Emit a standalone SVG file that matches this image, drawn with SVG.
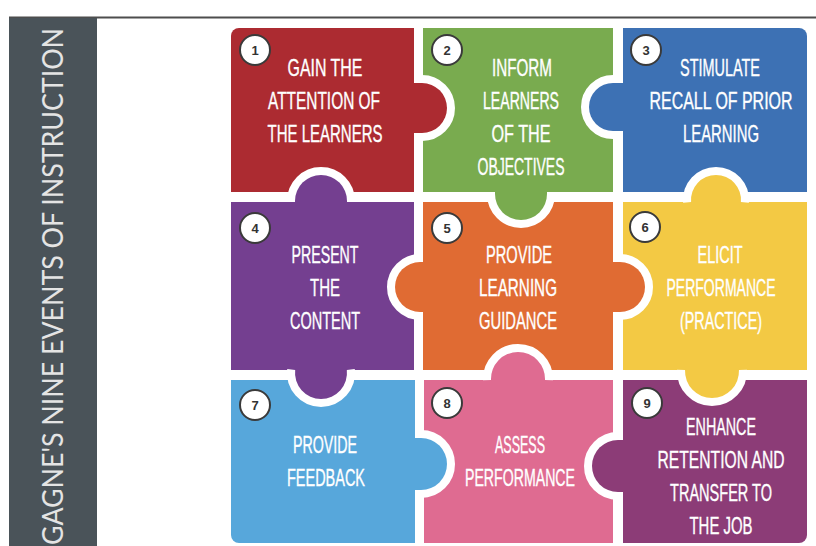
<svg xmlns="http://www.w3.org/2000/svg" width="816" height="546" viewBox="0 0 816 546">
<style>
.t{font-family:"Liberation Sans",Arial,sans-serif;font-size:23px;fill:#ffffff;stroke:#ffffff;stroke-width:0.35;text-anchor:middle}
.n{font-family:"Liberation Sans",Arial,sans-serif;font-size:13px;font-weight:bold;fill:#333333;text-anchor:middle}
.nc{fill:#ffffff;stroke:#3a3a3a;stroke-width:2}
.ring{fill:none;stroke:#ffffff;stroke-width:16;stroke-linecap:butt;stroke-linejoin:round}
.c1{fill:#ac2b31}.c2{fill:#79ab4f}.c3{fill:#3d71b4}.c4{fill:#743f90}.c5{fill:#e06b33}.c6{fill:#f3c944}.c7{fill:#57a7db}.c8{fill:#df6b91}.c9{fill:#8c3c77}
</style>
<rect x="0" y="0" width="816" height="546" fill="#ffffff"/>
<line x1="9" y1="17.5" x2="816" y2="17.5" stroke="#4d4d4d" stroke-width="2"/>
<g id="title">
<rect x="9" y="18" width="88" height="528" fill="#4a5359"/>
<text transform="translate(63,545) rotate(-90)" x="0" y="0" font-family="Lato,'Open Sans',sans-serif" font-size="28" fill="#e4e4e4" textLength="517" lengthAdjust="spacingAndGlyphs">GAGNE'S NINE EVENTS OF INSTRUCTION</text>
</g>
<g id="piece1">
<path class="c1" d="M231,36 A8 8 0 0 1 239,28 H414 V192 H231 Z"/>
</g>
<g id="piece2">
<rect class="c2" x="423" y="28" width="190" height="164"/>
</g>
<g id="piece3">
<path class="c3" d="M623,28 H799 A8 8 0 0 1 807,36 V192 H623 Z"/>
</g>
<g id="piece4">
<rect class="c4" x="231" y="202" width="183" height="168"/>
</g>
<g id="piece5">
<rect class="c5" x="423" y="202" width="190" height="168"/>
</g>
<g id="piece6">
<rect class="c6" x="623" y="202" width="184" height="168"/>
</g>
<g id="piece7">
<path class="c7" d="M231,380 H415 V543 H239 A8 8 0 0 1 231,535 Z"/>
</g>
<g id="piece8">
<rect class="c8" x="424" y="380" width="189" height="163"/>
</g>
<g id="piece9">
<path class="c9" d="M623,380 H807 V535 A8 8 0 0 1 799,543 H623 Z"/>
</g>
<g id="connectors">
<path class="ring" d="M414,83 H422 A25 25 0 0 1 422,133 H414"/>
<path class="ring" d="M623,83 H613 A24 24 0 0 0 613,131 H623"/>
<path class="ring" d="M295,202 V201 A26 26 0 0 1 347,201 V202"/>
<path class="ring" d="M495,192 V194 A26 26 0 0 0 547,194 V192"/>
<path class="ring" d="M691.08,202 A25 25 0 1 1 740.92,202"/>
<path class="ring" d="M423,262 H420 A25 25 0 0 0 420,312 H423"/>
<path class="ring" d="M613,262 H620 A25 25 0 0 1 620,312 H613"/>
<path class="ring" d="M295.17,370 A26 26 0 1 0 346.83,370"/>
<path class="ring" d="M491.02,380 A27 27 0 1 1 544.98,380"/>
<path class="ring" d="M685.02,370 A27 27 0 1 0 738.98,370"/>
<path class="ring" d="M415,438 H421 A26 26 0 0 1 421,490 H415"/>
<path class="ring" d="M623,440 H618 A26 26 0 0 0 618,492 H623"/>
<path class="c1" d="M413,83 H422 A25 25 0 0 1 422,133 H413 Z"/>
<path class="c3" d="M624,83 H613 A24 24 0 0 0 613,131 H624 Z"/>
<path class="c4" d="M295,203 V201 A26 26 0 0 1 347,201 V203 Z"/>
<path class="c2" d="M495,191 V194 A26 26 0 0 0 547,194 V191 Z"/>
<path class="c6" d="M691.08,203 V202 A25 25 0 1 1 740.92,202 V203 Z"/>
<path class="c5" d="M424,262 H420 A25 25 0 0 0 420,312 H424 Z"/>
<path class="c5" d="M612,262 H620 A25 25 0 0 1 620,312 H612 Z"/>
<path class="c4" d="M295.17,369 V370 A26 26 0 1 0 346.83,370 V369 Z"/>
<path class="c8" d="M491.02,381 V380 A27 27 0 1 1 544.98,380 V381 Z"/>
<path class="c6" d="M685.02,369 V370 A27 27 0 1 0 738.98,370 V369 Z"/>
<path class="c7" d="M414,438 H421 A26 26 0 0 1 421,490 H414 Z"/>
<path class="c9" d="M624,440 H618 A26 26 0 0 0 618,492 H624 Z"/>
</g>
<g id="labels1">
<circle class="nc" cx="255" cy="50" r="15"/><text class="n" x="255" y="55">1</text>
<text class="t" transform="translate(325,76) scale(0.8,1)" textLength="93.75" lengthAdjust="spacingAndGlyphs">GAIN THE</text>
<text class="t" transform="translate(324,109) scale(0.8,1)" textLength="140" lengthAdjust="spacingAndGlyphs">ATTENTION OF</text>
<text class="t" transform="translate(325,142) scale(0.8,1)" textLength="143.75" lengthAdjust="spacingAndGlyphs">THE LEARNERS</text>
</g>
<g id="labels2">
<circle class="nc" cx="447" cy="50" r="15"/><text class="n" x="447" y="55">2</text>
<text class="t" transform="translate(522,76) scale(0.8,1)" textLength="75" lengthAdjust="spacingAndGlyphs">INFORM</text>
<text class="t" transform="translate(521,109) scale(0.8,1)" textLength="95" lengthAdjust="spacingAndGlyphs">LEARNERS</text>
<text class="t" transform="translate(521,142) scale(0.8,1)" textLength="73.75" lengthAdjust="spacingAndGlyphs">OF THE</text>
<text class="t" transform="translate(521,175) scale(0.8,1)" textLength="108.75" lengthAdjust="spacingAndGlyphs">OBJECTIVES</text>
</g>
<g id="labels3">
<circle class="nc" cx="646" cy="50" r="15"/><text class="n" x="646" y="55">3</text>
<text class="t" transform="translate(720,76) scale(0.8,1)" textLength="100" lengthAdjust="spacingAndGlyphs">STIMULATE</text>
<text class="t" transform="translate(721,109) scale(0.8,1)" textLength="178.75" lengthAdjust="spacingAndGlyphs">RECALL OF PRIOR</text>
<text class="t" transform="translate(721,142) scale(0.8,1)" textLength="95" lengthAdjust="spacingAndGlyphs">LEARNING</text>
</g>
<g id="labels4">
<circle class="nc" cx="255" cy="228" r="15"/><text class="n" x="255" y="233">4</text>
<text class="t" transform="translate(325,263) scale(0.8,1)" textLength="83.75" lengthAdjust="spacingAndGlyphs">PRESENT</text>
<text class="t" transform="translate(325,296) scale(0.8,1)" textLength="37.5" lengthAdjust="spacingAndGlyphs">THE</text>
<text class="t" transform="translate(325,329) scale(0.8,1)" textLength="87.5" lengthAdjust="spacingAndGlyphs">CONTENT</text>
</g>
<g id="labels5">
<circle class="nc" cx="447" cy="228" r="15"/><text class="n" x="447" y="233">5</text>
<text class="t" transform="translate(519,263) scale(0.8,1)" textLength="82.5" lengthAdjust="spacingAndGlyphs">PROVIDE</text>
<text class="t" transform="translate(518,296) scale(0.8,1)" textLength="97.5" lengthAdjust="spacingAndGlyphs">LEARNING</text>
<text class="t" transform="translate(518,329) scale(0.8,1)" textLength="97.5" lengthAdjust="spacingAndGlyphs">GUIDANCE</text>
</g>
<g id="labels6">
<circle class="nc" cx="645" cy="227" r="15"/><text class="n" x="645" y="232">6</text>
<text class="t" transform="translate(720,263) scale(0.8,1)" textLength="56.25" lengthAdjust="spacingAndGlyphs">ELICIT</text>
<text class="t" transform="translate(721,296) scale(0.8,1)" textLength="136.25" lengthAdjust="spacingAndGlyphs">PERFORMANCE</text>
<text class="t" transform="translate(721,329) scale(0.8,1)" textLength="102.5" lengthAdjust="spacingAndGlyphs">(PRACTICE)</text>
</g>
<g id="labels7">
<circle class="nc" cx="255" cy="405" r="15"/><text class="n" x="255" y="410">7</text>
<text class="t" transform="translate(325,453) scale(0.8,1)" textLength="80" lengthAdjust="spacingAndGlyphs">PROVIDE</text>
<text class="t" transform="translate(326,486) scale(0.8,1)" textLength="97.5" lengthAdjust="spacingAndGlyphs">FEEDBACK</text>
</g>
<g id="labels8">
<circle class="nc" cx="447" cy="403" r="15"/><text class="n" x="447" y="408">8</text>
<text class="t" transform="translate(520,453) scale(0.8,1)" textLength="62.5" lengthAdjust="spacingAndGlyphs">ASSESS</text>
<text class="t" transform="translate(520,486) scale(0.8,1)" textLength="137.5" lengthAdjust="spacingAndGlyphs">PERFORMANCE</text>
</g>
<g id="labels9">
<circle class="nc" cx="647" cy="403" r="15"/><text class="n" x="647" y="408">9</text>
<text class="t" transform="translate(721,435) scale(0.8,1)" textLength="87.5" lengthAdjust="spacingAndGlyphs">ENHANCE</text>
<text class="t" transform="translate(721,468) scale(0.8,1)" textLength="158.75" lengthAdjust="spacingAndGlyphs">RETENTION AND</text>
<text class="t" transform="translate(721,501) scale(0.8,1)" textLength="127.5" lengthAdjust="spacingAndGlyphs">TRANSFER TO</text>
<text class="t" transform="translate(721,534) scale(0.8,1)" textLength="78.75" lengthAdjust="spacingAndGlyphs">THE JOB</text>
</g>
</svg>
